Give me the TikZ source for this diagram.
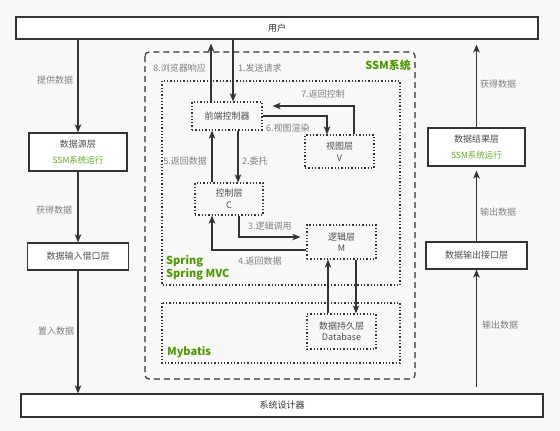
\documentclass[tikz,border=0pt]{standalone}
\usepackage{fontspec}
\setmainfont{Noto Sans CJK SC}
\usetikzlibrary{arrows.meta,calc}
\definecolor{bggray}{HTML}{F8F8F8}
\definecolor{linegray}{HTML}{333333}
\definecolor{textgray}{HTML}{4D4D4D}
\definecolor{labelgray}{HTML}{808080}
\definecolor{sysgreen}{HTML}{4D9900}
\definecolor{rungreen}{HTML}{5FAD1E}
\tikzset{
  box/.style={draw=linegray, fill=white, line width=1.2pt, inner sep=0pt,
    text=textgray, align=center, font=\fontsize{9}{11.5}\selectfont},
  dotbox/.style={box, fill=none, dash pattern=on 1.3pt off 2pt},
  arr/.style={draw=linegray, line width=1.3pt,
    -{Stealth[length=8pt,width=6.5pt,inset=2pt]}},
  lbl/.style={text=labelgray, inner sep=1pt, font=\fontsize{9}{11}\selectfont},
  grn/.style={text=sysgreen, inner sep=0pt, align=left,
    font=\bfseries\fontsize{11}{13}\selectfont}
}
\begin{document}
\begin{tikzpicture}[x=1pt,y=1pt,yscale=-1]
\useasboundingbox[fill=bggray] (0,0) rectangle (560,431);

% SSM container, Spring and Mybatis areas
\draw[linegray, line width=1.2pt, dash pattern=on 6pt off 4pt, rounded corners=4pt] (145,52) rectangle (415,379);
\draw[linegray, line width=1.1pt, dash pattern=on 1.3pt off 2pt] (162,81) rectangle (400,285);
\draw[linegray, line width=1.1pt, dash pattern=on 1.3pt off 2pt] (162,303) rectangle (400,363);

% top and bottom bars
\node[box, minimum width=522pt, minimum height=22pt, text=linegray] (user) at (277,28) {用户};
\node[box, minimum width=522pt, minimum height=23pt, text=linegray] (designer) at (282,405.5) {系统设计器};

% left column
\node[box, minimum width=98pt, minimum height=38pt] (src) at (78,152) {数据源层\\[4pt]{\color{rungreen}\fontsize{8.5}{10}\selectfont SSM系统运行}};
\node[box, minimum width=101pt, minimum height=27pt] (inbox) at (78,256.5) {数据输入借口层};

% right column
\node[box, minimum width=97pt, minimum height=38pt] (result) at (476.5,147) {数据结果层\\[4pt]{\color{rungreen}\fontsize{8.5}{10}\selectfont SSM系统运行}};
\node[box, minimum width=101pt, minimum height=27pt] (outbox) at (476.5,255.5) {数据输出接口层};

% MVC layers
\node[dotbox, minimum width=70pt, minimum height=28pt] (front) at (227,116) {前端控制器};
\node[dotbox, minimum width=69pt, minimum height=33pt] (view) at (339.5,151.5) {视图层\\V};
\node[dotbox, minimum width=68pt, minimum height=32pt] (ctrl) at (229,199) {控制层\\C};
\node[dotbox, minimum width=69pt, minimum height=34pt] (logic) at (341.5,242) {逻辑层\\M};
\node[dotbox, minimum width=69pt, minimum height=35pt] (db) at (341.5,331.5) {数据持久层\\Database};

% arrow columns
\coordinate (respx) at (211,0);
\coordinate (reqx) at (233,0);
\coordinate (retx) at (212,0);
\coordinate (delx) at (238,0);
\coordinate (callx) at (239,0);
\coordinate (rendx) at (327,0);
\coordinate (backx) at (354,0);
\coordinate (upx) at (328,0);
\coordinate (downx) at (356,0);

% left and right flows
\draw[arr] (user.south -| src) -- (src);
\draw[arr] (src) -- (inbox);
\draw[arr] (inbox) -- (inbox |- designer.north);
\draw[arr, shorten <=6pt] (designer.north -| outbox) -- (outbox);
\draw[arr, shorten >=4pt] (outbox) -- (result);
\draw[arr, shorten >=5pt] (result) -- (result |- user.south);

% request / response
\draw[arr] (user.south -| reqx) -- (front.north -| reqx);
\draw[arr, shorten >=4pt] (front.north -| respx) -- (user.south -| respx);
\draw[arr] (front.east) -| (view.north -| rendx);
\draw[arr] (view.north -| backx) |- ($(front.east)+(10,-10)$);
\draw[arr] (front.south -| delx) -- (ctrl.north -| delx);
\draw[arr] (ctrl.north -| retx) -- (front.south -| retx);
\draw[arr, shorten >=6pt] (ctrl.south -| callx) |- ($(logic.west)+(0,-5)$);
\draw[arr] ($(logic.west)+(0,8)$) -| (ctrl.south -| retx);
\draw[arr] (db.north -| upx) -- (logic.south -| upx);
\draw[arr] (logic.south -| downx) -- (db.north -| downx);

% labels
\node[lbl] (lbgive) at (55,80) {提供数据};
\node[lbl] (lbget) at (54,210) {获得数据};
\node[lbl] (lbput) at (56,331) {置入数据};
\node[lbl] (lbgetr) at (498,84) {获得数据};
\node[lbl] (lbout) at (498,212) {输出数据};
\node[lbl] (lboutb) at (500,325) {输出数据};
\node[lbl, anchor=east] (lbresp) at (207,68) {8.浏览器响应};
\node[lbl, anchor=west] (lbreq) at (237,68) {1.发送请求};
\node[lbl] (lbback) at (323,94) {7.返回控制};
\node[lbl, anchor=west] (lbrend) at (265,128) {6.视图渲染};
\node[lbl, anchor=west] (lbdel) at (241,161) {2.委托};
\node[lbl, anchor=east] (lbret) at (208,161) {5.返回数据};
\node[lbl, anchor=west] (lbcall) at (247,226) {3.逻辑调用};
\node[lbl, anchor=west] (lbretm) at (237,261) {4.返回数据};
\node[grn, anchor=east] (lbssm) at (411,65) {SSM系统};
\node[grn, anchor=west] (lbspring) at (166,267.5) {Spring\\Spring MVC};
\node[grn, anchor=west] (lbmyb) at (167,352) {Mybatis};
\end{tikzpicture}
\end{document}
